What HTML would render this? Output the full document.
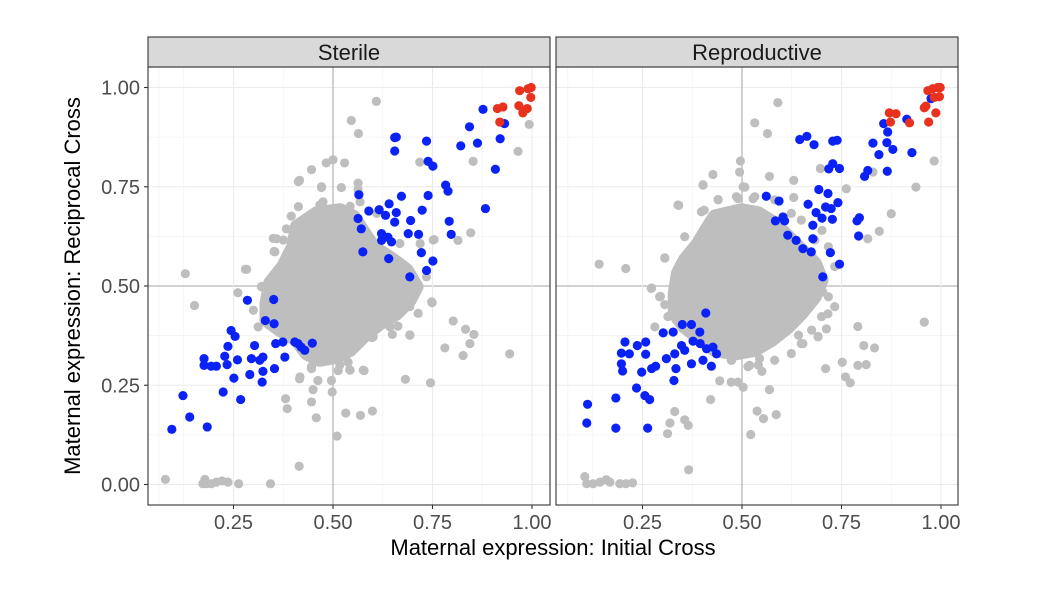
<!DOCTYPE html>
<html><head><meta charset="utf-8"><style>
html,body{margin:0;padding:0;background:#fff;}
svg{display:block;font-family:"Liberation Sans",Arial,sans-serif;}
</style></head><body>
<svg id="chart" width="1062" height="602" viewBox="0 0 1062 602"></svg>
<script>
const panels = ["Sterile","Reproductive"];
const xTicks = [0.25,0.5,0.75,1.0];
const xTickLabels = ["0.25","0.50","0.75","1.00"];
const yTicks = [0,0.25,0.5,0.75,1.0];
const yTickLabels = ["0.00","0.25","0.50","0.75","1.00"];

const sterileCore = [[0.409,0.649],[0.459,0.683],[0.518,0.691],[0.551,0.675],[0.568,0.649],[0.601,0.599],[0.652,0.565],[0.685,0.540],[0.710,0.498],[0.693,0.465],[0.660,0.431],[0.618,0.406],[0.576,0.372],[0.543,0.339],[0.509,0.322],[0.467,0.314],[0.434,0.330],[0.409,0.364],[0.367,0.389],[0.333,0.414],[0.333,0.456],[0.342,0.507],[0.375,0.549],[0.400,0.599]];
const sterileFringe = [[0.350,0.620],[0.354,0.586],[0.283,0.542],[0.320,0.498],[0.350,0.469],[0.300,0.439],[0.312,0.397],[0.375,0.616],[0.413,0.700],[0.467,0.704],[0.509,0.683],[0.543,0.701],[0.568,0.712],[0.610,0.683],[0.668,0.607],[0.719,0.607],[0.752,0.616],[0.735,0.523],[0.748,0.460],[0.714,0.431],[0.693,0.448],[0.643,0.397],[0.693,0.376],[0.601,0.372],[0.568,0.355],[0.517,0.301],[0.576,0.288],[0.543,0.288],[0.446,0.297],[0.417,0.271],[0.400,0.582],[0.383,0.565],[0.471,0.750],[0.563,0.759],[0.413,0.763]];
const sterileGrey = [[0.609,0.965],[0.546,0.917],[0.564,0.884],[0.5,0.818],[0.483,0.810],[0.529,0.810],[0.446,0.793],[0.416,0.766],[0.471,0.748],[0.521,0.748],[0.563,0.743],[0.475,0.712],[0.395,0.676],[0.383,0.644],[0.358,0.619],[0.352,0.587],[0.395,0.586],[0.280,0.542],[0.129,0.531],[0.152,0.451],[0.261,0.483],[0.322,0.499],[0.718,0.812],[0.852,0.814],[0.965,0.839],[0.993,0.907],[0.846,0.634],[0.814,0.615],[0.754,0.617],[0.749,0.458],[0.802,0.412],[0.833,0.391],[0.854,0.378],[0.844,0.355],[0.781,0.344],[0.827,0.325],[0.944,0.329],[0.682,0.265],[0.745,0.256],[0.663,0.399],[0.693,0.377],[0.649,0.378],[0.598,0.370],[0.578,0.287],[0.538,0.308],[0.542,0.289],[0.513,0.287],[0.496,0.262],[0.462,0.262],[0.446,0.292],[0.416,0.266],[0.450,0.239],[0.498,0.233],[0.381,0.216],[0.385,0.191],[0.446,0.208],[0.458,0.168],[0.532,0.180],[0.569,0.174],[0.599,0.185],[0.510,0.122],[0.415,0.046],[0.079,0.013],[0.178,0.013],[0.182,0.002],[0.194,0.002],[0.207,0.006],[0.221,0.009],[0.236,0.006],[0.263,0.002],[0.343,0.002],[0.173,0.002]];
const sterileBlue = [[0.877,0.945],[0.843,0.901],[0.931,0.909],[0.920,0.871],[0.821,0.853],[0.863,0.860],[0.908,0.794],[0.655,0.874],[0.659,0.875],[0.655,0.840],[0.735,0.865],[0.739,0.814],[0.751,0.802],[0.783,0.754],[0.789,0.739],[0.883,0.695],[0.792,0.663],[0.797,0.630],[0.565,0.730],[0.672,0.726],[0.739,0.728],[0.724,0.691],[0.641,0.707],[0.590,0.689],[0.616,0.692],[0.659,0.685],[0.632,0.678],[0.655,0.661],[0.695,0.665],[0.563,0.670],[0.571,0.644],[0.622,0.632],[0.638,0.623],[0.622,0.615],[0.647,0.611],[0.689,0.632],[0.715,0.630],[0.575,0.586],[0.722,0.584],[0.751,0.563],[0.735,0.539],[0.640,0.569],[0.693,0.523],[0.285,0.464],[0.351,0.466],[0.244,0.388],[0.254,0.373],[0.236,0.348],[0.176,0.317],[0.176,0.300],[0.194,0.298],[0.207,0.298],[0.234,0.302],[0.260,0.314],[0.228,0.323],[0.303,0.350],[0.295,0.317],[0.324,0.321],[0.316,0.313],[0.356,0.355],[0.374,0.359],[0.404,0.359],[0.420,0.346],[0.448,0.356],[0.330,0.413],[0.352,0.405],[0.379,0.321],[0.353,0.292],[0.324,0.285],[0.291,0.277],[0.251,0.268],[0.322,0.258],[0.224,0.233],[0.268,0.214],[0.123,0.224],[0.140,0.170],[0.184,0.145],[0.095,0.139],[0.412,0.355],[0.429,0.338]];
const sterileRed = [[0.969,0.992],[0.990,0.997],[0.998,1.0],[0.997,0.975],[0.967,0.954],[0.988,0.947],[0.977,0.936],[0.913,0.947],[0.927,0.951],[0.919,0.913]];

const reproCore = [[0.432,0.675],[0.499,0.691],[0.541,0.683],[0.582,0.658],[0.616,0.624],[0.649,0.591],[0.683,0.557],[0.700,0.515],[0.683,0.473],[0.649,0.431],[0.616,0.397],[0.574,0.364],[0.532,0.339],[0.482,0.330],[0.432,0.339],[0.398,0.364],[0.356,0.397],[0.331,0.431],[0.331,0.481],[0.339,0.532],[0.356,0.565],[0.390,0.607],[0.415,0.649]];
const reproFringe = [[0.339,0.704],[0.306,0.570],[0.272,0.494],[0.293,0.473],[0.314,0.423],[0.281,0.397],[0.356,0.624],[0.398,0.687],[0.440,0.717],[0.486,0.725],[0.532,0.725],[0.582,0.717],[0.624,0.683],[0.649,0.666],[0.683,0.616],[0.717,0.599],[0.733,0.549],[0.717,0.473],[0.733,0.448],[0.700,0.423],[0.675,0.389],[0.691,0.372],[0.649,0.355],[0.624,0.330],[0.582,0.313],[0.541,0.301],[0.515,0.297],[0.474,0.313],[0.402,0.754],[0.503,0.750],[0.490,0.721]];
const reproGrey = [[0.590,0.962],[0.532,0.911],[0.564,0.884],[0.496,0.815],[0.494,0.787],[0.427,0.781],[0.402,0.755],[0.569,0.776],[0.630,0.766],[0.507,0.749],[0.490,0.720],[0.440,0.718],[0.528,0.720],[0.341,0.703],[0.405,0.691],[0.540,0.682],[0.630,0.723],[0.697,0.796],[0.762,0.745],[0.937,0.749],[0.983,0.815],[0.829,0.787],[0.875,0.682],[0.845,0.638],[0.816,0.619],[0.701,0.640],[0.306,0.571],[0.141,0.555],[0.208,0.544],[0.273,0.495],[0.295,0.474],[0.306,0.453],[0.703,0.485],[0.716,0.430],[0.791,0.398],[0.712,0.392],[0.691,0.373],[0.653,0.355],[0.642,0.376],[0.806,0.350],[0.833,0.344],[0.958,0.409],[0.752,0.308],[0.812,0.302],[0.791,0.300],[0.710,0.292],[0.760,0.271],[0.772,0.256],[0.569,0.239],[0.550,0.285],[0.519,0.300],[0.544,0.317],[0.473,0.313],[0.473,0.258],[0.503,0.245],[0.490,0.258],[0.444,0.261],[0.421,0.214],[0.331,0.184],[0.356,0.163],[0.365,0.149],[0.319,0.155],[0.313,0.128],[0.538,0.185],[0.554,0.166],[0.586,0.176],[0.522,0.126],[0.366,0.037],[0.105,0.020],[0.110,0.002],[0.126,0.002],[0.143,0.006],[0.159,0.012],[0.168,0.006],[0.193,0.002],[0.208,0.002],[0.225,0.004]];
const reproBlue = [[0.975,0.972],[0.914,0.920],[0.856,0.909],[0.866,0.888],[0.829,0.860],[0.864,0.861],[0.879,0.844],[0.844,0.831],[0.927,0.836],[0.816,0.791],[0.808,0.776],[0.865,0.789],[0.645,0.869],[0.663,0.877],[0.681,0.856],[0.728,0.865],[0.739,0.867],[0.728,0.808],[0.718,0.795],[0.745,0.796],[0.561,0.726],[0.593,0.714],[0.693,0.743],[0.716,0.733],[0.741,0.710],[0.666,0.706],[0.710,0.699],[0.686,0.685],[0.724,0.695],[0.701,0.671],[0.727,0.668],[0.795,0.672],[0.789,0.664],[0.793,0.626],[0.584,0.664],[0.607,0.664],[0.603,0.674],[0.678,0.653],[0.615,0.628],[0.636,0.615],[0.678,0.619],[0.653,0.594],[0.674,0.586],[0.722,0.584],[0.745,0.555],[0.703,0.523],[0.409,0.432],[0.350,0.403],[0.373,0.403],[0.302,0.382],[0.327,0.384],[0.394,0.384],[0.206,0.359],[0.237,0.350],[0.258,0.359],[0.197,0.331],[0.217,0.329],[0.258,0.328],[0.197,0.304],[0.200,0.286],[0.248,0.283],[0.273,0.292],[0.283,0.298],[0.310,0.317],[0.331,0.329],[0.356,0.338],[0.377,0.361],[0.395,0.355],[0.411,0.342],[0.427,0.346],[0.436,0.329],[0.423,0.298],[0.373,0.304],[0.334,0.292],[0.329,0.262],[0.235,0.243],[0.256,0.224],[0.268,0.214],[0.183,0.218],[0.112,0.202],[0.110,0.155],[0.183,0.142],[0.263,0.142],[0.402,0.313],[0.348,0.350]];
const reproRed = [[0.967,0.992],[0.979,0.997],[0.992,1.0],[0.998,1.0],[0.996,0.977],[0.983,0.975],[0.962,0.953],[0.958,0.949],[0.987,0.936],[0.969,0.913],[0.870,0.936],[0.887,0.934],[0.921,0.911],[0.873,0.913]];

const NS="http://www.w3.org/2000/svg";
const svg=document.getElementById('chart');
function mk(tag,attrs,parent){const e=document.createElementNS(NS,tag);for(const k in attrs)e.setAttribute(k,attrs[k]);(parent||svg).appendChild(e);return e;}
const panelLeft=[148,556], panelW=402, plotTop=67, plotBottom=505;
const scale=398;
function xs(p,v){return panelLeft[p]+ (p===0?185:186) + (v-0.5)*scale;}
function ys(v){return 286-(v-0.5)*397;}
const dataSets=[[sterileCore,sterileFringe,sterileGrey,sterileBlue,sterileRed],[reproCore,reproFringe,reproGrey,reproBlue,reproRed]];
const minor=[0.125,0.375,0.625,0.875];

for(let p=0;p<2;p++){
  const g=mk('g',{});
  
  
  const L=panelLeft[p],R=L+panelW;
  mk('rect',{x:L,y:plotTop,width:panelW,height:plotBottom-plotTop,fill:'#fff'},g);
  minor.forEach(v=>{
    mk('line',{x1:xs(p,v),x2:xs(p,v),y1:plotTop,y2:plotBottom,stroke:'#f2f2f2','stroke-width':0.7},g);
    mk('line',{x1:L,x2:R,y1:ys(v),y2:ys(v),stroke:'#f2f2f2','stroke-width':0.7},g);
  });
  mk('line',{x1:xs(p,0.0625),x2:xs(p,0.0625),y1:plotTop,y2:plotBottom,stroke:'#f2f2f2','stroke-width':0.7},g);
  yTicks.forEach(v=>{
    const gl=mk('line',{x1:L,x2:R,y1:ys(v),y2:ys(v),stroke:v===0.5?'#c4c4c4':'#ebebeb','stroke-width':v===0.5?1.6:1.1},g);
    
    
  });
  xTicks.forEach(v=>{
    const gl=mk('line',{x1:xs(p,v),x2:xs(p,v),y1:plotTop,y2:plotBottom,stroke:v===0.5?'#c4c4c4':'#ebebeb','stroke-width':v===0.5?1.6:1.1},g);
    
    
  });
  const [core,fringe,grey,blue,red]=dataSets[p];
  const pts=core.map(d=>xs(p,d[0]).toFixed(1)+','+ys(d[1]).toFixed(1)).join(' ');
  const poly=mk('polygon',{points:pts,fill:'#bebebe',stroke:'#bebebe','stroke-width':14,'stroke-linejoin':'round'},g);
  
  
  const groups=[[fringe,'#bebebe','grey-point'],[grey,'#bebebe','grey-point'],[blue,'#0a22f5','blue-point'],[red,'#e8321e','red-point']];
  groups.forEach(([arr,col,nm])=>{
    arr.forEach(d=>{
      const c=mk('circle',{cx:xs(p,d[0]),cy:ys(d[1]),r:4.6,fill:col},g);
      
      
    });
  });
  mk('rect',{x:L,y:plotTop,width:panelW,height:plotBottom-plotTop,fill:'none',stroke:'#333','stroke-width':1.1},g);
  const s=mk('rect',{x:L,y:37,width:panelW,height:30,fill:'#d9d9d9',stroke:'#333','stroke-width':1.1},g);
  
  
  const st=mk('text',{x:L+panelW/2,y:60,'text-anchor':'middle','font-size':22,fill:'#1a1a1a'},g);
  st.textContent=panels[p];
  
  
  xTicks.forEach((v,i)=>{
    mk('line',{x1:xs(p,v),x2:xs(p,v),y1:plotBottom,y2:plotBottom+4,stroke:'#333','stroke-width':1.1},g);
    const t=mk('text',{x:xs(p,v),y:529,'text-anchor':'middle','font-size':20,fill:'#4d4d4d'},g);
    t.textContent=xTickLabels[i];
    
    
  });
}
yTicks.forEach((v,i)=>{
  mk('line',{x1:144,x2:148,y1:ys(v),y2:ys(v),stroke:'#333','stroke-width':1.1});
  const t=mk('text',{x:140,y:ys(v)+7,'text-anchor':'end','font-size':20,fill:'#4d4d4d'});
  t.textContent=yTickLabels[i];
  
  
});
const xt=mk('text',{x:553,y:555,'text-anchor':'middle','font-size':22,fill:'#000'});
xt.textContent='Maternal expression: Initial Cross';


const yt=mk('text',{x:0,y:0,'text-anchor':'middle','font-size':22,fill:'#000',transform:'translate(80,286) rotate(-90)'});
yt.textContent='Maternal expression: Reciprocal Cross';


</script>
</body></html>
